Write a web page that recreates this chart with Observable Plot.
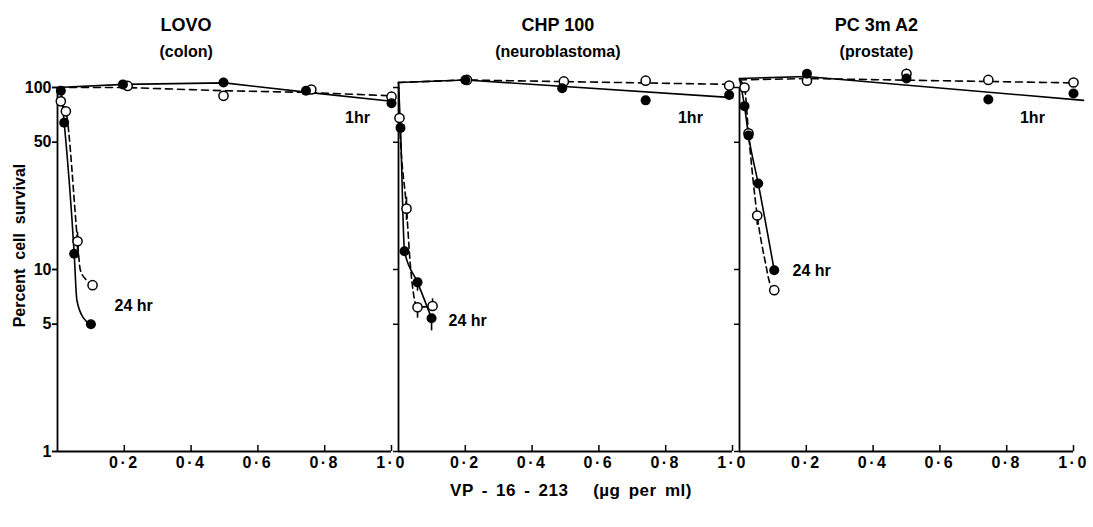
<!DOCTYPE html>
<html>
<head>
<meta charset="utf-8">
<script src="https://cdn.jsdelivr.net/npm/d3@7"></script>
<script src="https://cdn.jsdelivr.net/npm/@observablehq/plot@0.6"></script>
<style>
  body { margin: 0; background: #fff; }
  #chart svg { display: block; }
  g[aria-label="x-axis tick label"] text { letter-spacing: 2.5px; }
  g[aria-label="y title"] text { letter-spacing: 1.8px; }
  g[aria-label="panel title"] text { letter-spacing: 1px; }
  g[aria-label="panel subtitle"] text { letter-spacing: 1.5px; }
  #caption {
    width: 1093px; box-sizing: border-box; padding-left: 49px;
    text-align: center; height: 32px; line-height: 32px;
    font-family: "Liberation Sans", Arial, sans-serif; font-weight: bold;
    font-size: 17px; letter-spacing: 0.5px; word-spacing: 3px; color: #000;
  }
</style>
</head>
<body>
<div id="chart"></div>
<div id="caption">VP - 16 - 213 &nbsp;&nbsp;(µg per ml)</div>
<script>
// ---- panels / ticks ----
const panels = ["LOVO", "CHP 100", "PC 3mA2"];
const panelSubtitles = ["(colon)", "(neuroblastoma)", "(prostate)"];
const titleX = [0.385, 0.477, 0.41];
const xTicks = [0.2, 0.4, 0.6, 0.8, 1.0];
const yTicks = [1, 5, 10, 50, 100];
const label1hrPos = [[0.898, 68], [0.874, 68], [0.877, 68]];
const label24hrPos = [[0.228, 6.3], [0.207, 5.2], [0.216, 9.8]];

// ---- LOVO (colon) ----
const lovoFilled1hr = [[0.196, 104], [0.497, 106.5], [0.744, 96], [1.0, 82]];
const lovoOpen1hr = [[0.21, 102], [0.497, 90], [0.76, 97.5], [1.0, 89]];
const lovoFilled24hr = [[0.01, 96], [0.02, 64], [0.05, 12.2], [0.1, 5.0]];
const lovoOpen24hr = [[0.01, 84], [0.025, 74], [0.06, 14.3], [0.105, 8.2]];
const lovoSolid1hr = [[0, 100], [0.2, 104], [0.5, 106], [0.75, 94], [1.0, 84]];
const lovoDashed1hr = [[0, 100], [0.2, 100], [0.5, 96], [0.75, 94], [1.0, 90]];
const lovoSolid24hr = [[0, 100], [0.01, 96], [0.02, 64], [0.05, 12.2], [0.058, 6.8], [0.078, 5.4], [0.1, 5.0]];
const lovoDashed24hr = [[0, 100], [0.01, 84], [0.025, 74], [0.06, 14.3], [0.068, 10], [0.085, 8.8], [0.105, 8.2]];
const lovoErrors = [[0.06, 12.8, 16]];

// ---- CHP 100 (neuroblastoma) ----
const chpFilled1hr = [[0.2, 110], [0.49, 99], [0.74, 85], [0.99, 91]];
const chpOpen1hr = [[0.205, 110], [0.495, 108], [0.74, 109], [0.99, 102.5]];
const chpFilled24hr = [[0.006, 60], [0.018, 12.6], [0.057, 8.5], [0.099, 5.4]];
const chpOpen24hr = [[0.003, 68], [0.024, 21.6], [0.057, 6.2], [0.102, 6.3]];
const chpSolid1hr = [[0, 106.5], [0.2, 110], [1.0, 88]];
const chpDashed1hr = [[0, 106.5], [0.2, 110], [1.0, 104]];
const chpSolid24hr = [[0, 106.5], [0.006, 60], [0.018, 12.6], [0.057, 8.5], [0.099, 5.4]];
const chpDashed24hr = [[0, 106.5], [0.003, 68], [0.024, 21.6], [0.036, 10.3], [0.057, 6.2], [0.102, 6.3]];
const chpErrors = [[0.024, 18.6, 24.9], [0.057, 5.4, 6.2], [0.102, 6.3, 6.9], [0.099, 4.6, 5.4], [0.057, 7.6, 8.5]];

// ---- PC 3mA2 (prostate) ----
const pcFilled1hr = [[0.202, 119], [0.5, 112], [0.745, 86], [1.0, 92.7]];
const pcOpen1hr = [[0.202, 109], [0.5, 119], [0.745, 110], [1.0, 106.5]];
const pcFilled24hr = [[0.015, 79], [0.027, 54.5], [0.056, 29.7], [0.104, 9.9]];
const pcOpen24hr = [[0.015, 100], [0.027, 56], [0.053, 19.8], [0.104, 7.7]];
const pcSolid1hr = [[0, 112], [0.2, 115], [1.03, 85]];
const pcDashed1hr = [[0, 110], [0.2, 112], [1.0, 106]];
const pcSolid24hr = [[0, 112], [0.015, 79], [0.027, 54.5], [0.056, 29.7], [0.104, 9.9]];
const pcDashed24hr = [[0, 110], [0.015, 100], [0.027, 56], [0.053, 19.8], [0.078, 10.8], [0.09, 8.5], [0.104, 7.7]];
const pcErrors = [[0.053, 17.5, 19.8], [0.5, 112, 126]];

// ---- build tables ----
const rows = (panel, arr, extra = {}) => arr.map(([x, y]) => ({panel, x, y, ...extra}));
const byPanel = (a, b, c) => [...rows(panels[0], a), ...rows(panels[1], b), ...rows(panels[2], c)];

const filledPts = [...byPanel(lovoFilled1hr, chpFilled1hr, pcFilled1hr), ...byPanel(lovoFilled24hr, chpFilled24hr, pcFilled24hr)];
const openPts = [...byPanel(lovoOpen1hr, chpOpen1hr, pcOpen1hr), ...byPanel(lovoOpen24hr, chpOpen24hr, pcOpen24hr)];
const solid1hr = byPanel(lovoSolid1hr, chpSolid1hr, pcSolid1hr);
const dashed1hr = byPanel(lovoDashed1hr, chpDashed1hr, pcDashed1hr);
const solid24hr = byPanel(lovoSolid24hr, chpSolid24hr, pcSolid24hr);
const dashed24hr = byPanel(lovoDashed24hr, chpDashed24hr, pcDashed24hr);
const errRows = [lovoErrors, chpErrors, pcErrors].flatMap((e, i) => e.map(([x, lo, hi]) => ({panel: panels[i], x, lo, hi})));
const titleRows = panels.map((p, i) => ({panel: p, x: titleX[i], title: p === "PC 3mA2" ? "PC 3m A2" : p, sub: panelSubtitles[i]}));
const lab1 = panels.map((p, i) => ({panel: p, x: label1hrPos[i][0], y: label1hrPos[i][1], text: "1hr"}));
const lab24 = panels.map((p, i) => ({panel: p, x: label24hrPos[i][0], y: label24hrPos[i][1], text: "24 hr"}));

const fmtX = d => d.toFixed(1).replace(".", "·");

const chart = Plot.plot({
  width: 1093,
  height: 475,
  marginTop: 87,
  marginBottom: 24,
  marginLeft: 57,
  marginRight: 19,
  fx: {domain: panels, padding: 0.0205, axis: null},
  x: {domain: [0, 1]},
  y: {type: "log", domain: [1, 100]},
  style: {fontFamily: "'Liberation Sans', Arial, sans-serif", fontSize: "15px", color: "black", background: "white", overflow: "visible"},
  marks: [
    Plot.ruleY([1], {strokeWidth: 1.8}),
    Plot.ruleX([0], {strokeWidth: 1.8}),
    Plot.axisX({ticks: xTicks, tickSize: 0, tickPadding: 5, tickFormat: fmtX, label: null, fontWeight: "bold", fontSize: 16}),
    Plot.axisX({ticks: xTicks, tickSize: -6, tickFormat: () => "", label: null, strokeWidth: 1.5}),
    Plot.axisY({ticks: yTicks, tickSize: 5, tickPadding: 1, tickFormat: d => String(d), label: null, fontWeight: "bold", fontSize: 16, strokeWidth: 1.5}),
    Plot.axisY({ticks: yTicks, tickSize: 5, tickFormat: () => "", label: null, facetAnchor: null, strokeWidth: 1.5}),
    Plot.line(solid1hr, {fx: "panel", x: "x", y: "y", stroke: "black", strokeWidth: 1.6}),
    Plot.line(dashed1hr, {fx: "panel", x: "x", y: "y", stroke: "black", strokeWidth: 1.6, strokeDasharray: "7,5"}),
    Plot.line(solid24hr, {fx: "panel", x: "x", y: "y", stroke: "black", strokeWidth: 1.6, curve: "monotone-x"}),
    Plot.line(dashed24hr, {fx: "panel", x: "x", y: "y", stroke: "black", strokeWidth: 1.6, strokeDasharray: "6,4", curve: "monotone-x"}),
    Plot.ruleX(errRows, {fx: "panel", x: "x", y1: "lo", y2: "hi", stroke: "black", strokeWidth: 1.6}),
    Plot.dot(openPts, {fx: "panel", x: "x", y: "y", r: 4.6, fill: "white", stroke: "black", strokeWidth: 1.5}),
    Plot.dot(filledPts, {fx: "panel", x: "x", y: "y", r: 5, fill: "black"}),
    Plot.text(lab1, {fx: "panel", x: "x", y: "y", text: "text", fontSize: 16, fontWeight: "bold", fill: "black"}),
    Plot.text(lab24, {fx: "panel", x: "x", y: "y", text: "text", fontSize: 16, fontWeight: "bold", fill: "black"}),
    Plot.text(titleRows, {fx: "panel", x: "x", text: "title", frameAnchor: "top", dy: -69, fontSize: 18, fontWeight: "bold", fill: "black", ariaLabel: "panel title"}),
    Plot.text(titleRows, {fx: "panel", x: "x", text: "sub", frameAnchor: "top", dy: -42, fontSize: 16, fontWeight: "bold", fill: "black", ariaLabel: "panel subtitle"}),
    Plot.text([panels[0]], {fx: d => d, text: () => "Percent  cell  survival", frameAnchor: "left", textAnchor: "middle", rotate: -90, dx: -38, dy: -24, fontSize: 16, fontWeight: "bold", fill: "black", ariaLabel: "y title"})
  ]
});
document.getElementById("chart").appendChild(chart);
</script>
</body>
</html>
